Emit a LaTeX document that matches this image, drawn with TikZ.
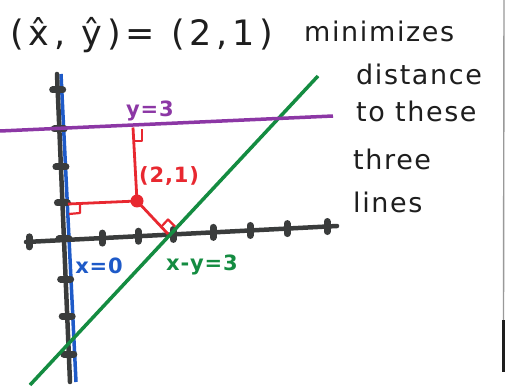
\documentclass[tikz,border=0pt]{standalone}
\usepackage{fontspec}
\newfontfamily\hand[LetterSpace=6]{DejaVu Sans}
\newfontfamily\handtitle[LetterSpace=14]{DejaVu Sans}
\newfontfamily\handbold[LetterSpace=4]{DejaVu Sans Bold}
\definecolor{axisgray}{RGB}{58,60,60}
\definecolor{lineblue}{RGB}{30,90,200}
\definecolor{linegreen}{RGB}{20,140,65}
\definecolor{linepurple}{RGB}{140,55,165}
\definecolor{linered}{RGB}{232,40,48}
\definecolor{inkblack}{RGB}{30,30,30}
\begin{document}
\begin{tikzpicture}[x=1pt,y=-1pt,
  axisline/.style={draw=axisgray,line width=4.5pt,line cap=round},
  tickmark/.style={draw=axisgray,line width=7pt,line cap=round},
  bigtext/.style={anchor=base west,text=inkblack,inner sep=0pt,font=\hand\fontsize{27}{32}\selectfont},
  lbl/.style={inner sep=0pt,font=\handbold\fontsize{21}{24}\selectfont},
  redseg/.style={draw=linered,line width=2.8pt},
  rmark/.style={draw=linered,line width=2.2pt,line join=round}]
\useasboundingbox (0,0) rectangle (506,390);
\fill[white] (0,0) rectangle (506,390);

% frame edge on the right
\coordinate (fa) at (504,0);
\coordinate (fb) at (503.5,320);
\coordinate (fc) at (503.5,372);
\draw[draw=gray!80,line width=1.4pt] (fa) -- (fb);
\draw[draw=inkblack,line width=3pt] (fb) -- (fc);

% text
\node[bigtext,font=\handtitle\fontsize{35}{40}\selectfont] (title) at (10,46) {(\^x, \^y)= (2,1)};
\node[bigtext] (w1) at (304,42) {minimizes};
\node[bigtext] (w2) at (356,85) {distance};
\node[bigtext] (w3) at (356,122) {to these};
\node[bigtext] (w4) at (353,170) {three};
\node[bigtext] (w5) at (353,213) {lines};

% line endpoints
\coordinate (bluetop) at (61,74);
\coordinate (bluebot) at (76,382);
\coordinate (yaxtop) at (57,74);
\coordinate (yaxbot) at (70,382);
\coordinate (xaxl) at (26,242);
\coordinate (xaxr) at (337,226);
\coordinate (grbot) at (30,385);
\coordinate (grtop) at (318,76);
\coordinate (pul) at (0,131);
\coordinate (pur) at (333,116);

% blue line x=0
\draw[draw=lineblue,line width=3.5pt] (bluebot) -- (bluetop);
% axes
\draw[axisline] (yaxbot) -- (yaxtop);
\draw[axisline] (xaxl) -- (xaxr);
% ticks on y axis
\foreach \yy in {90,129,167,203,239,279,316,354}{
  \pgfmathsetmacro{\xx}{57+13*(\yy-74)/308}
  \draw[tickmark] (\xx-5,\yy) -- (\xx+5,\yy);
}
% ticks on x axis
\foreach \xx in {29,102,138,173,213,250,287,327}{
  \pgfmathsetmacro{\yy}{242-16*(\xx-26)/311}
  \draw[tickmark] (\xx,\yy-5) -- (\xx,\yy+5);
}
% green and purple lines
\draw[draw=linegreen,line width=3.5pt] (grbot) -- (grtop);
\draw[draw=linepurple,line width=3.5pt] (pul) -- (pur);

% red perpendiculars
\coordinate (P) at (137,201);
\coordinate (Fy) at (133,127.5);
\coordinate (Fx) at (68,204);
\coordinate (Fg) at (168,234);
\draw[redseg] (P) -- (Fy);
\draw[redseg] (P) -- (Fx);
\draw[redseg] (P) -- (Fg);
\draw[rmark] (133.5,141) -- (142,141) -- (142,129);
\draw[rmark] (69,214) -- (80,213) -- (80,205);
\draw[rmark] (161,227) -- (168,219.5) -- (175,226.5);
\fill[linered] (P) circle (6.5);

% labels
\node[lbl,text=linepurple] (ly) at (150,111) {y=3};
\node[lbl,text=linered] (lp) at (169,176) {(2,1)};
\node[lbl,text=lineblue] (lx) at (99,266) {x=0};
\node[lbl,text=linegreen] (lg) at (202,265) {x-y=3};
\end{tikzpicture}
\end{document}
